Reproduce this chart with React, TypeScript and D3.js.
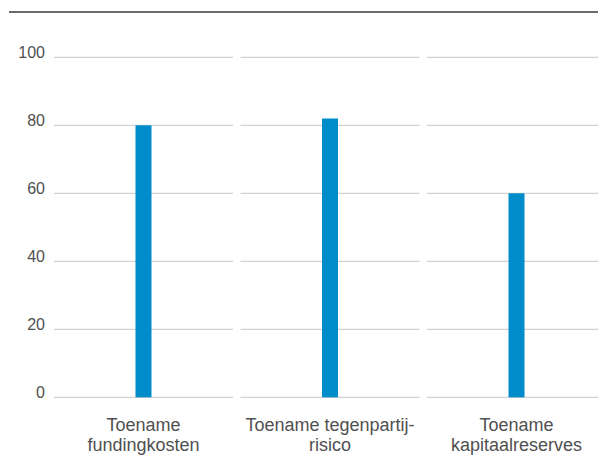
import React from "react";
import * as d3 from "d3";

const categories = ["fundingkosten", "tegenpartijrisico", "kapitaalreserves"];
const categoryLabels: string[][] = [
  ["Toename", "fundingkosten"],
  ["Toename tegenpartij-", "risico"],
  ["Toename", "kapitaalreserves"],
];
const values = [80, 82, 60];
const yTicks = [0, 20, 40, 60, 80, 100];

const W = 598;
const H = 462;
const FONT = "'Liberation Sans', Arial, sans-serif";

export default function App() {
  const y = d3.scaleLinear().domain([0, 100]).range([397.3, 57.3]);
  const x = d3
    .scaleBand<string>()
    .domain(categories)
    .range([50.25, 50.25 + 3 * 186.5])
    .paddingInner(0)
    .paddingOuter(0);
  const inset = 3.75;
  const barW = 16;

  return (
    <svg
      width={W}
      height={H}
      style={{ position: "absolute", left: 0, top: 0, background: "#fff" }}
    >
      <line x1={9} x2={W} y1={12} y2={12} stroke="#3a3a3a" strokeWidth={1.5} />
      {yTicks.map((t) => (
        <g key={t}>
          <text
            x={45}
            y={y(t) + 0.7}
            textAnchor="end"
            fontFamily={FONT}
            fontSize={16}
            fill="#505050"
          >
            {t}
          </text>
          {categories.map((c) => (
            <line
              key={c}
              x1={(x(c) as number) + inset}
              x2={(x(c) as number) + x.bandwidth() - inset}
              y1={y(t)}
              y2={y(t)}
              stroke="#c6c6c6"
              strokeWidth={1}
            />
          ))}
        </g>
      ))}
      {categories.map((c, i) => {
        const cx = (x(c) as number) + x.bandwidth() / 2;
        return (
          <g key={c}>
            <rect
              x={cx - barW / 2}
              y={y(values[i])}
              width={barW}
              height={y(0) - y(values[i])}
              fill="#008bcb"
            />
            <text
              textAnchor="middle"
              fontFamily={FONT}
              fontSize={18}
              fill="#505050"
            >
              {categoryLabels[i].map((l, j) => (
                <tspan key={j} x={cx} y={431 + j * 20}>
                  {l}
                </tspan>
              ))}
            </text>
          </g>
        );
      })}
    </svg>
  );
}
